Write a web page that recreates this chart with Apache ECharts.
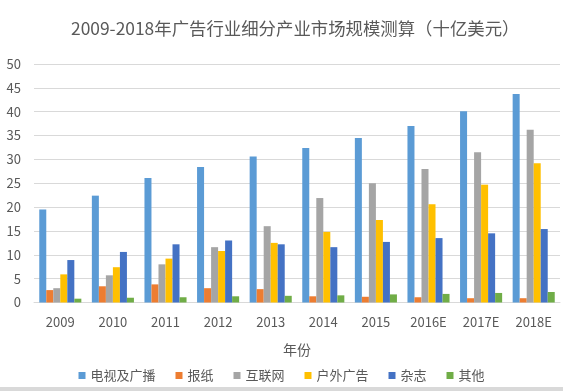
<!DOCTYPE html>
<html><head><meta charset="utf-8">
<script src="https://cdn.jsdelivr.net/npm/echarts@6/dist/echarts.min.js"></script>
<style>html,body{margin:0;padding:0;background:#fff;}#c{width:563px;height:391px;}</style>
</head><body><div id="c"></div>
<script>
const categories = ['2009','2010','2011','2012','2013','2014','2015','2016E','2017E','2018E'];
const seriesNames = ['电视及广播','报纸','互联网','户外广告','杂志','其他'];
const tvRadio   = [19.5, 22.4, 26.1, 28.4, 30.6, 32.4, 34.5, 37.0, 40.1, 43.7];
const newspaper = [2.6, 3.4, 3.8, 3.0, 2.8, 1.3, 1.2, 1.1, 0.9, 0.9];
const internet  = [3.0, 5.7, 8.0, 11.6, 16.0, 21.9, 25.0, 28.0, 31.5, 36.2];
const outdoor   = [5.9, 7.4, 9.2, 10.8, 12.5, 14.8, 17.3, 20.6, 24.7, 29.2];
const magazine  = [8.9, 10.6, 12.2, 13.0, 12.2, 11.6, 12.7, 13.5, 14.5, 15.4];
const other     = [0.8, 1.0, 1.1, 1.3, 1.4, 1.5, 1.7, 1.8, 2.0, 2.2];
const seriesData = [tvRadio, newspaper, internet, outdoor, magazine, other];
const colors = ['#5B9BD5','#ED7D31','#A5A5A5','#FFC000','#4472C4','#70AD47'];
const titleText = '2009-2018年广告行业细分产业市场规模测算（十亿美元）';
const xName = '年份';
const font = '"Noto Sans CJK SC", "Noto Sans", sans-serif';
const txt = '#595959';

const chart = echarts.init(document.getElementById('c'), null, {renderer:'canvas'});
chart.setOption({
  animation: false,
  color: colors,
  textStyle: {fontFamily: font, color: txt},
  title: {
    text: titleText, left: 71, top: 20, padding: 0,
    textStyle: {fontFamily: font, fontSize: 17.4, fontWeight: 'normal', color: txt}
  },
  legend: {
    data: seriesNames, left: 'center', top: 364, itemWidth: 7, itemHeight: 7, itemGap: 20,
    icon: 'rect', textStyle: {fontFamily: font, fontSize: 13, color: txt}
  },
  grid: {left: 34, right: 3, top: 64, bottom: 88.5, containLabel: false},
  xAxis: {
    type: 'category', data: categories,
    name: xName, nameLocation: 'middle', nameGap: 40,
    nameTextStyle: {fontFamily: font, fontSize: 14, color: txt},
    axisLine: {lineStyle: {color: '#D9D9D9'}},
    axisTick: {show: false},
    axisLabel: {color: txt, fontSize: 13, margin: 13, fontFamily: font}
  },
  yAxis: {
    type: 'value', min: 0, max: 50, interval: 5,
    axisLine: {show: false}, axisTick: {show: false},
    axisLabel: {color: txt, fontSize: 13, margin: 13, fontFamily: font},
    splitLine: {lineStyle: {color: '#D9D9D9', width: 1}}
  },
  graphic: [{type: 'rect', left: 0, bottom: 0, shape: {width: 563, height: 4}, style: {fill: '#D9D9D9'}}],
  series: seriesNames.map((n, i) => ({
    name: n, type: 'bar', data: seriesData[i], barGap: '0%', barCategoryGap: '20%'
  }))
});
</script></body></html>
